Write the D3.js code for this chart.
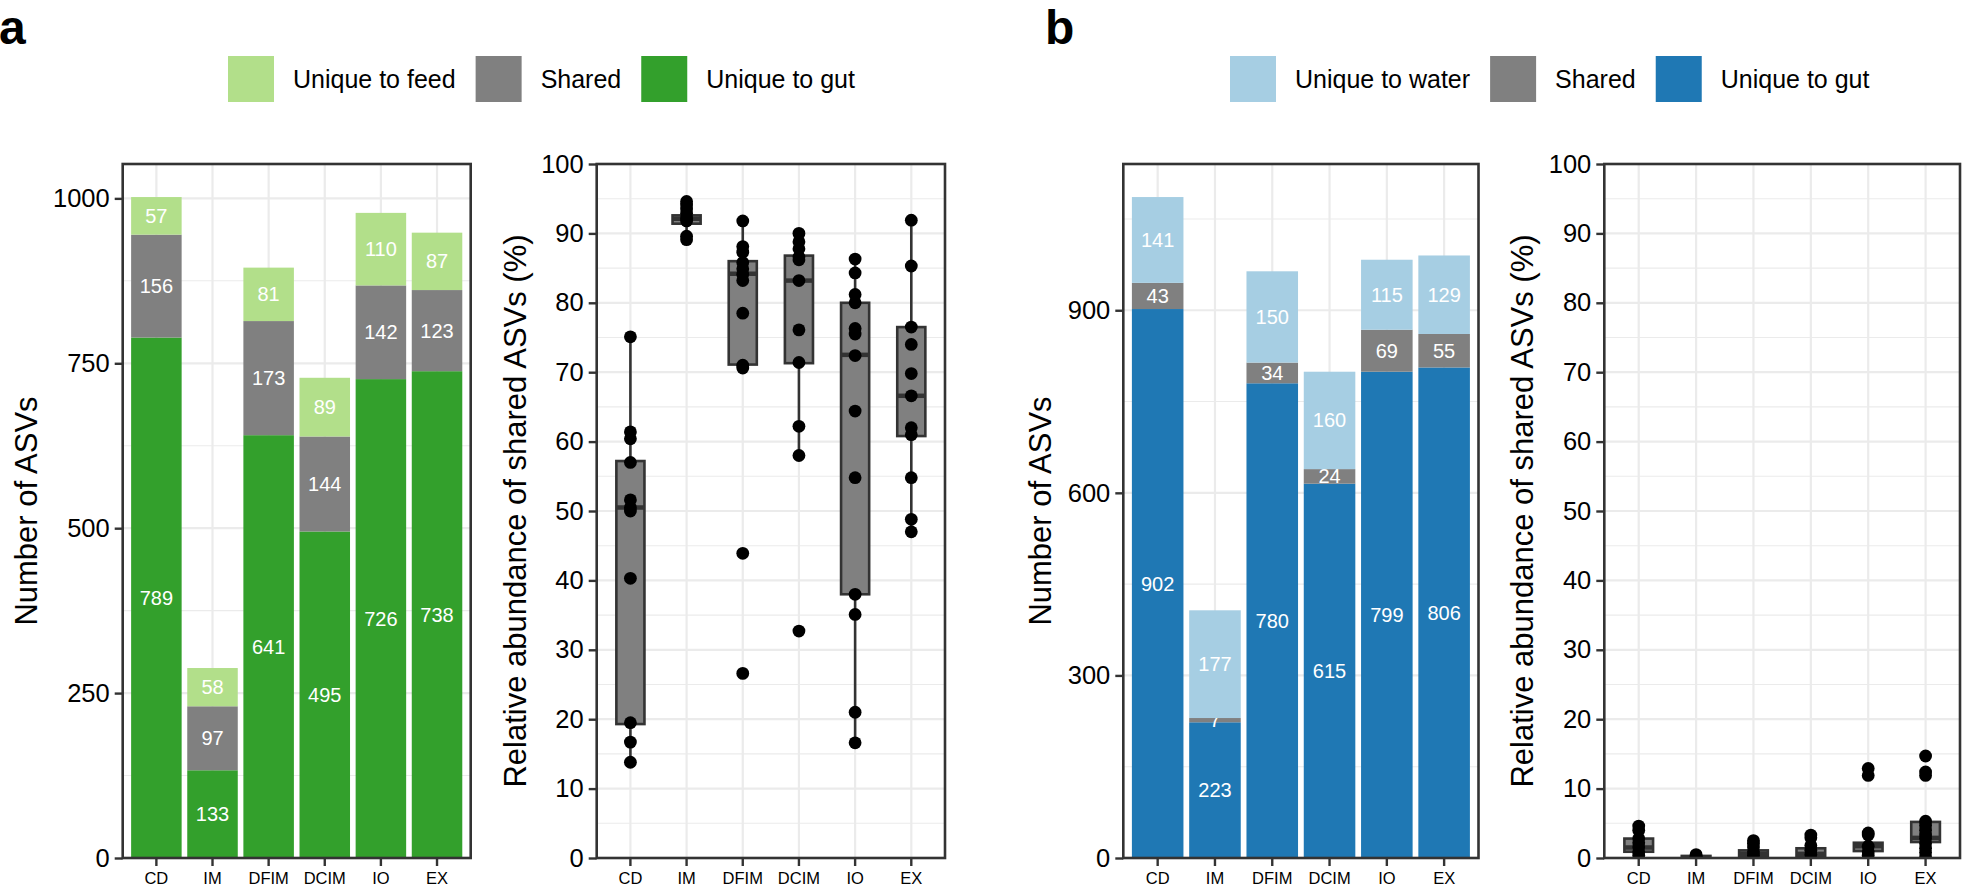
<!DOCTYPE html>
<html><head><meta charset="utf-8">
<script src="https://cdn.jsdelivr.net/npm/d3@7"></script>
<style>
html,body{margin:0;padding:0;background:#fff;}
svg{display:block;font-family:"Liberation Sans",Arial,Helvetica,sans-serif;}
</style></head>
<body>
<script>
// ---------------- DATA ----------------
const categories = ["CD","IM","DFIM","DCIM","IO","EX"];

// Panel a: feed
const feedLegend = ["Unique to feed","Shared","Unique to gut"];
const feedGut    = [789,133,641,495,726,738];
const feedShared = [156, 97,173,144,142,123];
const feedUnique = [ 57, 58, 81, 89,110, 87];
const feedBarTicks = [0,250,500,750,1000];

// box stats for relative abundance of shared ASVs (feed)
const feedQ1    = [19.3, 91.4, 71.1, 71.3, 38.0, 60.8];
const feedMed   = [50.5, 92.1, 84.2, 83.2, 72.5, 66.6];
const feedQ3    = [57.2, 92.6, 86.0, 86.8, 80.0, 76.5];
const feedLo    = [13.8, 89.1, 70.6, 58.0, 16.6, 47.0];
const feedHi    = [75.1, 94.6, 91.8, 90.0, 86.3, 91.9];
const feedPoints = [
  [75.1,61.4,60.4,57.0,51.6,50.5,50.0,40.3,19.5,16.7,13.8],
  [94.6,94.1,93.5,92.9,92.2,91.8,89.6,89.1],
  [91.8,88.1,87.3,85.8,84.9,84.1,83.2,78.5,71.0,70.6,43.9,26.6],
  [90.0,88.8,87.8,86.6,86.2,83.2,76.1,71.4,62.2,58.0,32.7],
  [86.3,84.3,81.2,80.0,76.3,75.5,72.4,64.4,54.8,38.0,35.1,21.0,16.6],
  [91.9,85.3,76.5,74.0,69.8,66.6,62.0,61.0,54.8,48.8,47.0]
];

// Panel b: water
const waterLegend = ["Unique to water","Shared","Unique to gut"];
const waterGut    = [902,223,780,615,799,806];
const waterShared = [ 43,  7, 34, 24, 69, 55];
const waterUnique = [141,177,150,160,115,129];
const waterBarTicks = [0,300,600,900];

const waterQ1  = [0.9, 0.0, 0.15, 0.1, 1.0, 2.3];
const waterMed = [1.5, 0.1, 0.6, 0.6, 1.7, 2.9];
const waterQ3  = [2.8, 0.3, 1.1, 1.4, 2.2, 5.2];
const waterLo  = [0.2, 0.0, 0.0, 0.0, 0.3, 0.1];
const waterHi  = [4.6, 0.5, 2.5, 3.3, 3.6, 5.3];
const waterPoints = [
  [4.6,4.0,2.8,2.2,1.6,0.9,0.4],
  [0.5,0.2,0.1,0.0],
  [2.5,2.1,1.6,0.9,0.4],
  [3.3,2.9,1.8,1.1,0.5],
  [12.9,11.9,3.6,3.3,1.7,0.9,0.4],
  [14.7,12.4,11.9,5.3,4.7,4.0,3.3,2.8,2.1,1.4,0.8,0.1]
];
const boxTicks = [0,10,20,30,40,50,60,70,80,90,100];

const feedColors  = ["#B2DF8A","#808080","#33A02C"]; // legend order: unique, shared, gut
const waterColors = ["#A6CEE3","#808080","#1F78B4"];

// ---------------- LAYOUT ----------------
const W = 1968, H = 888;
const TOP = 164, BOTTOM = 858;
const GRID = "#EBEBEB", INK = "#333333";

const svg = d3.select("body").append("svg").attr("width", W).attr("height", H);
let clipId = 0;

function bandScale(left, right){
  return d3.scaleBand().domain(categories).range([left, right])
    .paddingInner(0.1).paddingOuter(0.15).align(0.5);
}

function drawFrame(g, x, y, left, right, ticks, minor){
  g.selectAll(null).data(minor).enter().append("line")
    .attr("x1", left).attr("x2", right).attr("y1", d=>y(d)).attr("y2", d=>y(d))
    .attr("stroke", GRID).attr("stroke-width", 1.1);
  g.selectAll(null).data(ticks).enter().append("line")
    .attr("x1", left).attr("x2", right).attr("y1", d=>y(d)).attr("y2", d=>y(d))
    .attr("stroke", GRID).attr("stroke-width", 2.2);
  g.selectAll(null).data(categories).enter().append("line")
    .attr("x1", d=>x(d)+x.bandwidth()/2).attr("x2", d=>x(d)+x.bandwidth()/2)
    .attr("y1", TOP).attr("y2", BOTTOM)
    .attr("stroke", GRID).attr("stroke-width", 2.2);
}

function drawAxes(g, x, y, left, right, ticks, title, titleX){
  const ya = g.append("g").attr("transform", `translate(${left},0)`)
    .call(d3.axisLeft(y).tickValues(ticks).tickSize(8).tickPadding(5).tickFormat(d3.format("d")));
  ya.select(".domain").remove();
  ya.selectAll(".tick line").attr("stroke", INK).attr("stroke-width", 2.4);
  ya.selectAll(".tick text").attr("fill", "#000").style("font-size", "25.5px")
    .style("font-family", "'Liberation Sans',Arial,sans-serif");
  const xa = g.append("g").attr("transform", `translate(0,${BOTTOM})`)
    .call(d3.axisBottom(x).tickSize(8).tickPadding(6));
  xa.select(".domain").remove();
  xa.selectAll(".tick line").attr("stroke", INK).attr("stroke-width", 2.4);
  xa.selectAll(".tick text").attr("fill", "#000").style("font-size", "16.5px")
    .style("font-family", "'Liberation Sans',Arial,sans-serif");
  g.append("rect").attr("x", left).attr("y", TOP).attr("width", right-left).attr("height", BOTTOM-TOP)
    .attr("fill", "none").attr("stroke", INK).attr("stroke-width", 2.6);
  g.append("text").attr("transform", `translate(${titleX},${(TOP+BOTTOM)/2}) rotate(-90)`)
    .attr("text-anchor", "middle").attr("dominant-baseline", "central")
    .style("font-size", "31px").attr("fill", "#000").text(title);
}

function barPanel(left, right, gut, shared, uniq, colors, ticks, minor, titleX){
  const g = svg.append("g");
  const rows = categories.map((c,i)=>({cat:c, gut:gut[i], shared:shared[i], uniq:uniq[i]}));
  const keys = ["gut","shared","uniq"];
  const stack = d3.stack().keys(keys)(rows);
  const maxTot = d3.max(rows, r=>r.gut+r.shared+r.uniq);
  const x = bandScale(left, right);
  const y = d3.scaleLinear().domain([0, maxTot*1.05]).range([BOTTOM, TOP]);
  drawFrame(g, x, y, left, right, ticks, minor);
  const colorOf = {gut:colors[2], shared:colors[1], uniq:colors[0]};
  const layers = g.selectAll(null).data(stack).enter().append("g")
    .attr("fill", d=>colorOf[d.key]);
  layers.selectAll("rect").data(d=>d).enter().append("rect")
    .attr("x", d=>x(d.data.cat)).attr("width", x.bandwidth())
    .attr("y", d=>y(d[1])).attr("height", d=>y(d[0])-y(d[1]));
  layers.selectAll("text").data(d=>d).enter().append("text")
    .attr("x", d=>x(d.data.cat)+x.bandwidth()/2)
    .attr("y", d=>y((d[0]+d[1])/2))
    .attr("text-anchor","middle").attr("dominant-baseline","central")
    .attr("fill","#FFFFFF").style("font-size","20px")
    .text(d=>d[1]-d[0]);
  drawAxes(g, x, y, left, right, ticks, "Number of ASVs", titleX);
}

function boxPanel(left, right, q1, med, q3, lo, hi, pts, titleX){
  const g = svg.append("g");
  const x = bandScale(left, right);
  const y = d3.scaleLinear().domain([0,100]).range([BOTTOM, TOP]);
  const minor = d3.range(5,100,10);
  drawFrame(g, x, y, left, right, boxTicks, minor);
  const id = "clip"+(clipId++);
  g.append("clipPath").attr("id", id).append("rect")
    .attr("x", left).attr("y", TOP).attr("width", right-left).attr("height", BOTTOM-TOP);
  const inner = g.append("g").attr("clip-path", `url(#${id})`);
  const step = x.step();
  const hw = step*0.25;
  const cx = c => x(c)+x.bandwidth()/2;
  const data = categories.map((c,i)=>({c, q1:q1[i], med:med[i], q3:q3[i], lo:lo[i], hi:hi[i], pts:pts[i]}));
  const bx = inner.selectAll(null).data(data).enter().append("g");
  bx.append("line").attr("x1", d=>cx(d.c)).attr("x2", d=>cx(d.c))
    .attr("y1", d=>y(d.hi)).attr("y2", d=>y(d.q3)).attr("stroke", INK).attr("stroke-width", 2.6);
  bx.append("line").attr("x1", d=>cx(d.c)).attr("x2", d=>cx(d.c))
    .attr("y1", d=>y(d.q1)).attr("y2", d=>y(d.lo)).attr("stroke", INK).attr("stroke-width", 2.6);
  bx.append("rect").attr("x", d=>cx(d.c)-hw).attr("width", hw*2)
    .attr("y", d=>y(d.q3)).attr("height", d=>Math.max(0.5, y(d.q1)-y(d.q3)))
    .attr("fill", "#808080").attr("stroke", INK).attr("stroke-width", 2.6);
  bx.append("line").attr("x1", d=>cx(d.c)-hw).attr("x2", d=>cx(d.c)+hw)
    .attr("y1", d=>y(d.med)).attr("y2", d=>y(d.med)).attr("stroke", INK).attr("stroke-width", 4.5);
  bx.selectAll("circle").data(d=>d.pts.map(v=>({c:d.c, v}))).enter().append("circle")
    .attr("cx", d=>cx(d.c)).attr("cy", d=>y(d.v)).attr("r", 6.4).attr("fill", "#000");
  drawAxes(g, x, y, left, right, boxTicks, "Relative abundance of shared ASVs (%)", titleX);
}

function legend(x0, labels, colors){
  const g = svg.append("g");
  let xp = x0;
  labels.forEach((lab,i)=>{
    g.append("rect").attr("x", xp).attr("y", 56).attr("width", 46).attr("height", 46).attr("fill", colors[i]);
    const t = g.append("text").attr("x", xp+46+19).attr("y", 88).style("font-size","25px")
      .attr("fill","#000").text(lab);
    xp = xp + 46 + 19 + t.node().getComputedTextLength() + 20;
  });
}

svg.append("text").attr("x", -1).attr("y", 43.5).style("font-size","48px").style("font-weight","bold").text("a");
svg.append("text").attr("x", 1045).attr("y", 43.5).style("font-size","48px").style("font-weight","bold").text("b");

legend(228, feedLegend, feedColors);
legend(1230, waterLegend, waterColors);

barPanel(122.7, 470.7, feedGut, feedShared, feedUnique, feedColors, feedBarTicks, [125,375,625,875], 26);
boxPanel(596.7, 945, feedQ1, feedMed, feedQ3, feedLo, feedHi, feedPoints, 515);
barPanel(1123.3, 1478.5, waterGut, waterShared, waterUnique, waterColors, waterBarTicks, [150,450,750,1050], 1040);
boxPanel(1604.3, 1960, waterQ1, waterMed, waterQ3, waterLo, waterHi, waterPoints, 1522);
</script>
</body></html>
